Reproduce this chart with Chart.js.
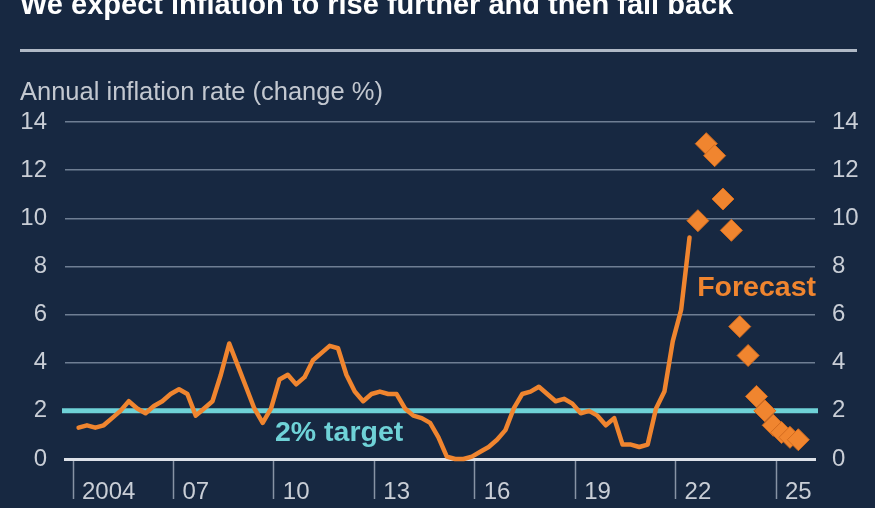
<!DOCTYPE html>
<html><head><meta charset="utf-8">
<script src="https://cdn.jsdelivr.net/npm/chart.js@4/dist/chart.umd.min.js"></script>
<style>
html,body{margin:0;padding:0;background:#172841;}
#wrap{position:relative;width:875px;height:508px;overflow:hidden;}
canvas{display:block;}
</style></head><body>
<div id="wrap"><canvas id="c" width="875" height="508"></canvas></div>
<script>
const TITLE = 'We expect inflation to rise further and then fall back';
const SUBTITLE = 'Annual inflation rate (change %)';
const TARGET_LABEL = '2% target';
const FORECAST_LABEL = 'Forecast';

// Quarterly CPI inflation, 2004 Q1 .. 2022 Q2
const HIST_START_YEAR = 2004;
const HIST_VALUES = [
  1.3, 1.4, 1.3, 1.4,
  1.7, 2.0, 2.4, 2.1,
  1.9, 2.2, 2.4, 2.7,
  2.9, 2.7, 1.8, 2.1,
  2.4, 3.5, 4.8, 3.9,
  3.0, 2.1, 1.5, 2.1,
  3.3, 3.5, 3.1, 3.4,
  4.1, 4.4, 4.7, 4.6,
  3.5, 2.8, 2.4, 2.7,
  2.8, 2.7, 2.7, 2.1,
  1.8, 1.7, 1.5, 0.9,
  0.1, 0.0, 0.0, 0.1,
  0.3, 0.5, 0.8, 1.2,
  2.1, 2.7, 2.8, 3.0,
  2.7, 2.4, 2.5, 2.3,
  1.9, 2.0, 1.8, 1.4,
  1.7, 0.6, 0.6, 0.5,
  0.6, 2.1, 2.8, 4.9,
  6.2, 9.2
];

// Forecast, 2022 Q3 .. 2025 Q3
const FORECAST_START_YEAR = 2022.5;
const FORECAST_VALUES = [9.9, 13.1, 12.6, 10.8, 9.5, 5.5, 4.3, 2.6, 2.0, 1.4, 1.1, 0.9, 0.8];

const X_TICKS = [2004, 2007, 2010, 2013, 2016, 2019, 2022, 2025];
const X_TICK_LABELS = ['2004', '07', '10', '13', '16', '19', '22', '25'];
const Y_TICKS = [0, 2, 4, 6, 8, 10, 12, 14];
const TARGET = 2;

const QUARTER_OFFSET = 1 / 6;
const histData = HIST_VALUES.map((v, i) => ({ x: HIST_START_YEAR + i / 4 + QUARTER_OFFSET, y: v }));
const fcData = FORECAST_VALUES.map((v, i) => ({ x: FORECAST_START_YEAR + i / 4 + QUARTER_OFFSET, y: v }));

const BG = '#172841';
const ORANGE = '#f0852f';
const CYAN = '#6fd2d7';
const GRID = '#6f7e93';
const TICK_COLOR = '#c9ced6';
const FONT = '"Liberation Sans", Arial, Helvetica, sans-serif';

const deco = {
  id: 'deco',
  beforeDraw(chart) {
    const ctx = chart.ctx;
    ctx.save();
    ctx.fillStyle = BG;
    ctx.fillRect(0, 0, chart.width, chart.height);
    ctx.textBaseline = 'alphabetic';
    ctx.textAlign = 'left';
    ctx.fillStyle = '#ffffff';
    ctx.font = 'bold 29px ' + FONT;
    ctx.fillText(TITLE, 20, 14);
    ctx.fillStyle = '#b0b9c6';
    ctx.fillRect(20, 49, 837, 3);
    ctx.fillStyle = '#c3c8d0';
    ctx.font = '25.5px ' + FONT;
    ctx.fillText(SUBTITLE, 20, 100);
    ctx.restore();
  },
  beforeDatasetsDraw(chart) {
    const ctx = chart.ctx;
    const y = chart.scales.y.getPixelForValue(TARGET);
    const a = chart.chartArea;
    ctx.save();
    ctx.strokeStyle = CYAN;
    ctx.lineWidth = 5;
    ctx.beginPath();
    ctx.moveTo(a.left - 3, y);
    ctx.lineTo(a.right + 3, y);
    ctx.stroke();
    ctx.fillStyle = CYAN;
    ctx.font = 'bold 28.5px ' + FONT;
    ctx.textBaseline = 'middle';
    ctx.textAlign = 'left';
    ctx.fillText(TARGET_LABEL, a.left + 210, y + 22);
    ctx.restore();
  },
  afterDatasetsDraw(chart) {
    const ctx = chart.ctx;
    const a = chart.chartArea;
    ctx.save();
    ctx.fillStyle = ORANGE;
    ctx.font = 'bold 28.5px ' + FONT;
    ctx.textBaseline = 'middle';
    ctx.textAlign = 'right';
    ctx.fillText(FORECAST_LABEL, a.right + 1, chart.scales.y.getPixelForValue(7.1));
    ctx.restore();
  }
};

new Chart(document.getElementById('c'), {
  type: 'line',
  data: {
    datasets: [
      {
        data: histData,
        borderColor: ORANGE,
        borderWidth: 4.5,
        borderJoinStyle: 'round',
        borderCapStyle: 'round',
        pointRadius: 0,
        tension: 0,
        clip: false,
        yAxisID: 'y'
      },
      {
        data: fcData,
        showLine: false,
        pointStyle: 'rectRot',
        pointRadius: 11,
        pointHoverRadius: 11,
        pointBackgroundColor: ORANGE,
        pointBorderColor: '#d46c1f',
        pointBorderWidth: 1,
        clip: false,
        yAxisID: 'y'
      }
    ]
  },
  options: {
    responsive: false,
    animation: false,
    devicePixelRatio: 1,
    layout: { padding: { top: 122, left: 0, right: 0, bottom: 0 } },
    plugins: { legend: { display: false }, tooltip: { enabled: false }, title: { display: false } },
    scales: {
      x: {
        type: 'linear',
        min: 2003.761,
        max: 2026.165,
        afterBuildTicks: (axis) => { axis.ticks = X_TICKS.map(v => ({ value: v })); },
        afterFit: (axis) => { axis.height = 49; },
        ticks: {
          callback: (v) => X_TICK_LABELS[X_TICKS.indexOf(v)],
          align: 'start',
          labelOffset: 9,
          padding: -21,
          maxRotation: 0,
          autoSkip: false,
          color: TICK_COLOR,
          font: { family: FONT, size: 24 }
        },
        grid: {
          drawOnChartArea: false,
          drawTicks: true,
          tickLength: 40,
          tickColor: '#8793a4',
          tickWidth: 1.5
        },
        border: { display: true, color: '#dde1e8', width: 3 }
      },
      y: {
        position: 'left',
        min: 0,
        max: 14,
        afterBuildTicks: (axis) => { axis.ticks = Y_TICKS.map(v => ({ value: v })); },
        afterFit: (axis) => { axis.width = 65; },
        ticks: { padding: 18, color: TICK_COLOR, font: { family: FONT, size: 24 } },
        grid: { color: GRID, lineWidth: 1.5, drawTicks: false },
        border: { display: false }
      },
      y2: {
        position: 'right',
        min: 0,
        max: 14,
        afterBuildTicks: (axis) => { axis.ticks = Y_TICKS.map(v => ({ value: v })); },
        afterFit: (axis) => { axis.width = 60; },
        ticks: { padding: 17, color: TICK_COLOR, font: { family: FONT, size: 24 } },
        grid: { drawOnChartArea: false, drawTicks: false },
        border: { display: false }
      }
    }
  },
  plugins: [deco]
});
</script>
</body></html>
